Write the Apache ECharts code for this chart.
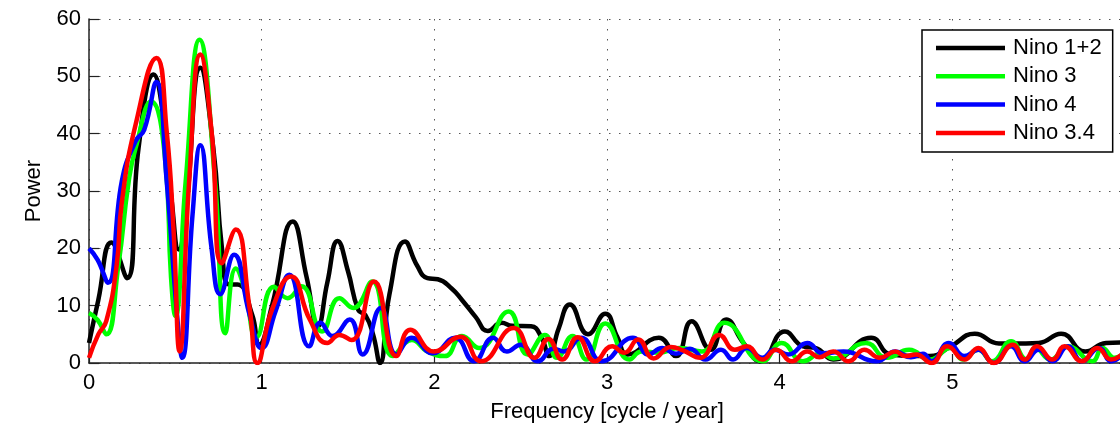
<!DOCTYPE html>
<html>
<head>
<meta charset="utf-8">
<script src="https://cdn.jsdelivr.net/npm/echarts@6/dist/echarts.min.js"></script>
<style>
  html, body { margin: 0; padding: 0; background: #fff; }
  #chart { width: 1120px; height: 431px; }
</style>
</head>
<body>
<div id="chart"></div>
<script>
// ========== 数据 ==========
const seriesNames = ['Nino 1+2', 'Nino 3', 'Nino 4', 'Nino 3.4'];
const xTicks = [0, 1, 2, 3, 4, 5, 6];
const yTicks = [0, 10, 20, 30, 40, 50, 60];

// [frequency, power]
const nino12 = [
    [0, 3.5], [0.054, 11], [0.13, 21], [0.22, 14.8], [0.287, 37.5], [0.374, 50.3],
    [0.43, 43], [0.48, 28], [0.52, 19.8], [0.56, 26], [0.645, 51.5], [0.72, 37.5],
    [0.77, 20], [0.81, 13.7], [0.86, 13.7], [0.945, 8.4], [0.985, 3.2], [1.06, 10],
    [1.18, 24.7], [1.26, 15], [1.325, 6.4], [1.38, 14], [1.44, 21.3], [1.5, 16],
    [1.56, 9.2], [1.6, 8.4], [1.645, 5], [1.685, 0], [1.74, 12], [1.83, 21.2],
    [1.9, 17], [1.96, 14.8], [2.02, 14.6], [2.1, 13], [2.16, 11], [2.24, 8],
    [2.31, 5.6], [2.39, 7], [2.45, 6.5], [2.56, 6.4], [2.62, 4.5], [2.665, 1.2],
    [2.72, 6], [2.785, 10.2], [2.89, 5], [2.99, 8.6], [3.06, 4.5], [3.12, 1.5],
    [3.3, 4.4], [3.4, 1.2], [3.49, 7.3], [3.6, 2.3], [3.69, 7.6], [3.79, 3.5],
    [3.89, 0.3], [4.03, 5.5], [4.135, 2.9], [4.21, 2.6], [4.31, 0.6], [4.53, 4.4],
    [4.64, 1.5], [4.77, 1.2], [4.87, 1.2], [4.99, 2.9], [5.13, 5.1], [5.27, 3.4],
    [5.35, 3.4], [5.5, 3.5], [5.63, 5.1], [5.77, 2], [5.89, 3.5], [6.0, 3.6]
];
const nino3 = [
    [0, 8.7], [0.05, 7.5], [0.10, 5], [0.17, 17], [0.23, 31.7], [0.27, 37.5],
    [0.36, 45.6], [0.44, 35.8], [0.475, 15], [0.5, 8.2], [0.56, 31.7], [0.64, 56.4],
    [0.73, 31.7], [0.79, 5.2], [0.85, 16.5], [0.9, 13], [0.97, 4.5], [1.07, 13.3],
    [1.15, 11.3], [1.23, 13.4], [1.35, 5.5], [1.45, 11.3], [1.53, 9.6], [1.64, 14.2],
    [1.76, 1.2], [1.87, 4], [1.96, 2], [2.06, 1.2], [2.16, 4.7], [2.26, 2.6],
    [2.43, 9], [2.54, 1.5], [2.64, 4.9], [2.71, 0.9], [2.8, 4.7], [2.88, 0.6],
    [2.99, 6.9], [3.13, 0.6], [3.2, 2], [3.3, 1.8], [3.42, 2.6], [3.55, 2],
    [3.68, 7], [3.9, 0.3], [4.01, 3.5], [4.135, 0.3], [4.24, 1.7], [4.31, 0.8],
    [4.5, 3.5], [4.62, 0.9], [4.75, 2.3], [4.87, 0.6], [4.99, 2.6], [5.06, 0.6],
    [5.15, 2.3], [5.23, 0.3], [5.34, 3.8], [5.43, 0.6], [5.48, 2.6], [5.57, 0.6],
    [5.67, 2.9], [5.81, 0.3], [5.87, 2.6], [5.94, 0.9], [6.0, 1.8]
];
const nino4 = [
    [0, 20], [0.05, 18], [0.11, 14], [0.19, 31.7], [0.27, 38.7], [0.32, 40.7],
    [0.39, 49], [0.45, 31.7], [0.51, 8.4], [0.54, 0.9], [0.6, 26], [0.645, 38],
    [0.71, 20], [0.76, 12], [0.84, 18.9], [0.93, 8.4], [1.0, 2.6], [1.08, 9],
    [1.16, 15.4], [1.275, 2.9], [1.34, 7], [1.41, 4.7], [1.51, 7.6], [1.585, 1.5],
    [1.69, 9.6], [1.78, 1.5], [1.87, 4.4], [1.99, 1.7], [2.12, 4.4], [2.23, 0.3],
    [2.34, 4.4], [2.42, 2], [2.5, 3.2], [2.6, 0.3], [2.69, 2.5], [2.75, 2],
    [2.85, 4.4], [2.97, 0.3], [3.15, 4.4], [3.24, 1.5], [3.32, 2.6], [3.4, 1.6],
    [3.48, 2.5], [3.57, 0.6], [3.66, 2.3], [3.73, 0.6], [3.81, 2.6], [3.9, 0.9],
    [3.97, 2.3], [4.05, 1.5], [4.16, 3.5], [4.25, 1.7], [4.37, 2], [4.56, 0.3],
    [4.67, 2], [4.76, 1], [4.83, 1.6], [4.88, 0.3], [4.98, 3.5], [5.07, 1.2],
    [5.15, 2.3], [5.24, 0], [5.34, 2.9], [5.42, 0.3], [5.5, 2.3], [5.58, 0.3],
    [5.67, 2.9], [5.75, 0.3], [5.85, 2.6], [5.92, 0.3], [6.0, 2]
];
const nino34 = [
    [0, 0.9], [0.054, 5], [0.10, 7.3], [0.16, 17], [0.19, 28], [0.27, 41.6],
    [0.39, 53.2], [0.45, 40.4], [0.49, 23], [0.525, 2], [0.58, 31.7], [0.645, 53.8],
    [0.71, 40.4], [0.77, 17.4], [0.85, 23.3], [0.93, 9.6], [0.975, 0], [1.06, 9.3],
    [1.17, 15.1], [1.28, 7.5], [1.38, 3.5], [1.45, 4.9], [1.52, 4], [1.65, 14.2],
    [1.78, 1.2], [1.86, 5.8], [2.0, 2], [2.15, 4.6], [2.27, 0.3], [2.46, 6.1],
    [2.58, 0.9], [2.66, 4.2], [2.74, 0.6], [2.83, 4.5], [2.93, 0.3], [3.03, 2.9],
    [3.1, 1.8], [3.18, 4.1], [3.27, 0.8], [3.37, 2.8], [3.44, 2.2], [3.54, 0.9],
    [3.65, 4.9], [3.74, 2.3], [3.81, 2.9], [3.9, 0.6], [3.98, 2.3], [4.07, 0.3],
    [4.16, 2], [4.23, 1], [4.31, 2], [4.4, 0.3], [4.49, 2.3], [4.58, 0.9],
    [4.67, 2], [4.73, 1.2], [4.79, 1.5], [4.88, 0], [4.97, 2.9], [5.07, 0.6],
    [5.15, 2.6], [5.24, 0], [5.35, 3.2], [5.42, 0.6], [5.49, 2.9], [5.58, 0.6],
    [5.65, 2.9], [5.75, 0.3], [5.84, 2.6], [5.92, 0.6], [6.0, 2]
];

const seriesData = [nino12, nino3, nino4, nino34];
const seriesColors = ['#000000', '#00ff00', '#0000ff', '#ff0000'];

// ========== 图表 ==========
const FONT = "'Liberation Sans', Arial, Helvetica, sans-serif";
const chart = echarts.init(document.getElementById('chart'), null, { renderer: 'canvas' });

const gridLine = { show: true, lineStyle: { color: '#555', width: 1, type: [1.5, 8.5] } };
const axisLine = { show: true, lineStyle: { color: '#222', width: 1.5 } };

chart.setOption({
    animation: false,
    backgroundColor: '#fff',
    // 右端 x=6 落在画布外一点，与原图一样被裁掉
    grid: { left: 89, width: 1036, top: 19, height: 344, containLabel: false, outerBoundsMode: 'none' },
    xAxis: {
        type: 'value',
        min: xTicks[0], max: xTicks[xTicks.length - 1], interval: 1,
        name: 'Frequency [cycle / year]',
        nameLocation: 'middle', nameGap: 38,
        nameTextStyle: { fontSize: 22, color: '#000', fontFamily: FONT },
        axisLine: axisLine,
        axisTick: { show: true, inside: true, length: 9, lineStyle: { color: '#222', width: 1.2 } },
        axisLabel: {
            fontSize: 22, color: '#000', fontFamily: FONT, margin: 9,
            hideOverlap: false, showMaxLabel: true, showMinLabel: true, alignMaxLabel: 'center'
        },
        splitLine: gridLine
    },
    yAxis: {
        type: 'value',
        min: yTicks[0], max: yTicks[yTicks.length - 1], interval: 10,
        name: 'Power',
        nameLocation: 'middle', nameGap: 44,
        nameTextStyle: { fontSize: 22, color: '#000', fontFamily: FONT },
        axisLine: axisLine,
        axisTick: { show: true, inside: true, length: 10, lineStyle: { color: '#222', width: 1.2 } },
        axisLabel: { fontSize: 22, color: '#000', fontFamily: FONT, margin: 8 },
        splitLine: gridLine
    },
    legend: {
        orient: 'vertical',
        left: 922, top: 30,
        padding: [7, 11, 8, 14],
        itemGap: 6.3,
        itemWidth: 69, itemHeight: 4.5,
        icon: 'rect',
        borderColor: '#000', borderWidth: 1.5, borderRadius: 0,
        backgroundColor: '#fff',
        textStyle: { fontSize: 22, color: '#000', fontFamily: FONT, lineHeight: 22, padding: [0, 0, 0, 3] },
        data: seriesNames
    },
    series: seriesNames.map((name, i) => ({
        name: name,
        type: 'line',
        data: seriesData[i],
        smooth: 0.5,
        showSymbol: false,
        symbol: 'none',
        color: seriesColors[i],
        lineStyle: { color: seriesColors[i], width: 4.5 },
        z: 2 + i
    }))
});
</script>
</body>
</html>
